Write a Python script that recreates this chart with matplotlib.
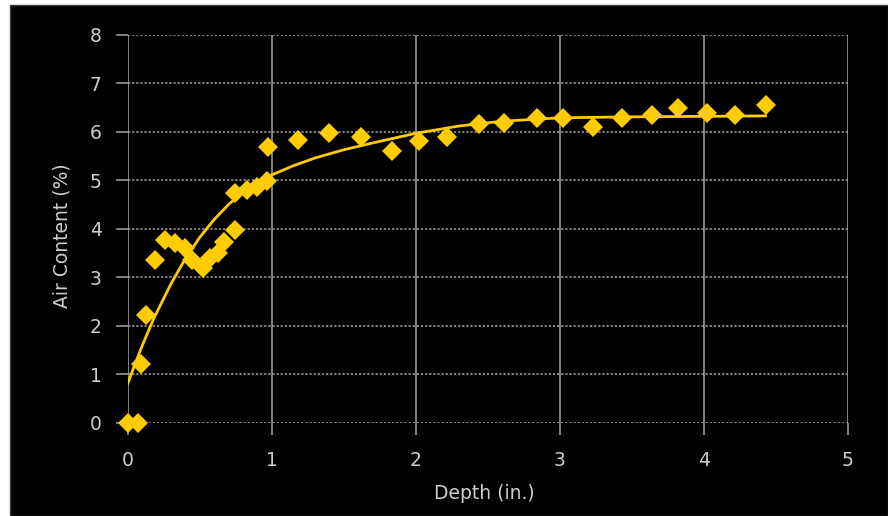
import numpy as np
import matplotlib
matplotlib.use('Agg')
import matplotlib.pyplot as plt
from matplotlib.patches import Rectangle

# values
depth = [0.0, 0.07, 0.09, 0.13, 0.19, 0.26, 0.33, 0.40, 0.45, 0.52,
         0.57, 0.63, 0.67, 0.745, 0.745, 0.83, 0.90, 0.97, 0.974, 1.18,
         1.40, 1.62, 1.835, 2.02, 2.22, 2.44, 2.61, 2.84, 3.02, 3.23,
         3.43, 3.64, 3.82, 4.02, 4.22, 4.43]
air_content = [0.0, 0.0, 1.21, 2.22, 3.36, 3.77, 3.71, 3.61, 3.36, 3.19,
               3.4, 3.5, 3.72, 3.98, 4.73, 4.81, 4.87, 4.98, 5.69, 5.84,
               5.98, 5.90, 5.61, 5.82, 5.90, 6.17, 6.19, 6.29, 6.29, 6.11,
               6.29, 6.35, 6.50, 6.39, 6.35, 6.56]

# trend curve at several depths
trend_depth = [0.0, 0.05, 0.1, 0.18, 0.3, 0.4, 0.5, 0.6, 0.7, 0.8, 0.9,
               1.0, 1.15, 1.3, 1.5, 1.7, 2.0, 2.3, 2.6, 3.0, 3.5, 4.0, 4.43]
trend_air = [0.8, 1.2, 1.58, 2.14, 2.86, 3.38, 3.82, 4.19, 4.5, 4.76, 4.97,
             5.11, 5.3, 5.46, 5.63, 5.77, 5.97, 6.12, 6.22, 6.29, 6.31, 6.32,
             6.33]

x_ticks = [0, 1, 2, 3, 4, 5]
y_ticks = [0, 1, 2, 3, 4, 5, 6, 7, 8]

gold = '#FFCC00'
text_col = '#d0cccc'
grid_col = '#a8a2a2'

fig = plt.figure(figsize=(8.88, 5.16), dpi=100, facecolor='white')
fig.patches.append(Rectangle((10 / 888, 0), 878 / 888, 511 / 516,
                             transform=fig.transFigure, facecolor='black',
                             edgecolor='#404040', linewidth=1, zorder=-5))

ax = fig.add_axes([0.1438, 0.1812, 0.8108, 0.751])
ax.set_facecolor('black')
ax.set_xlim(0, 5)
ax.set_ylim(0, 8)

# grid: solid verticals, fine dashed horizontals
for xv in x_ticks:
    ax.axvline(xv, color=grid_col, lw=1.1, zorder=1)
for yv in y_ticks:
    ax.axhline(yv, color=grid_col, lw=1.1, ls=(0, (1.5, 1.2)), zorder=1)
for s in ax.spines.values():
    s.set_visible(False)

ax.set_xticks(x_ticks)
ax.set_yticks(y_ticks)
ax.tick_params(axis='both', colors=grid_col, length=8.8, width=1.1,
               labelcolor=text_col, labelsize=13.5)
ax.tick_params(axis='x', pad=12)
ax.tick_params(axis='y', pad=10)

ax.plot(trend_depth, trend_air, color=gold, lw=2, zorder=2,
        solid_joinstyle='round')

ax.plot(depth, air_content, ls='none', marker='D', markersize=10,
        color=gold, markeredgewidth=0, clip_on=False, zorder=3)

ax.set_xlabel('Depth (in.)', color=text_col, fontsize=13.5, va='center')
ax.set_ylabel('Air Content (%)', color=text_col, fontsize=13.5, va='center')
ax.xaxis.set_label_coords(0.496, -0.182)
ax.yaxis.set_label_coords(-0.0913, 0.4826)

fig.savefig('out.png', dpi=100, facecolor='white')
